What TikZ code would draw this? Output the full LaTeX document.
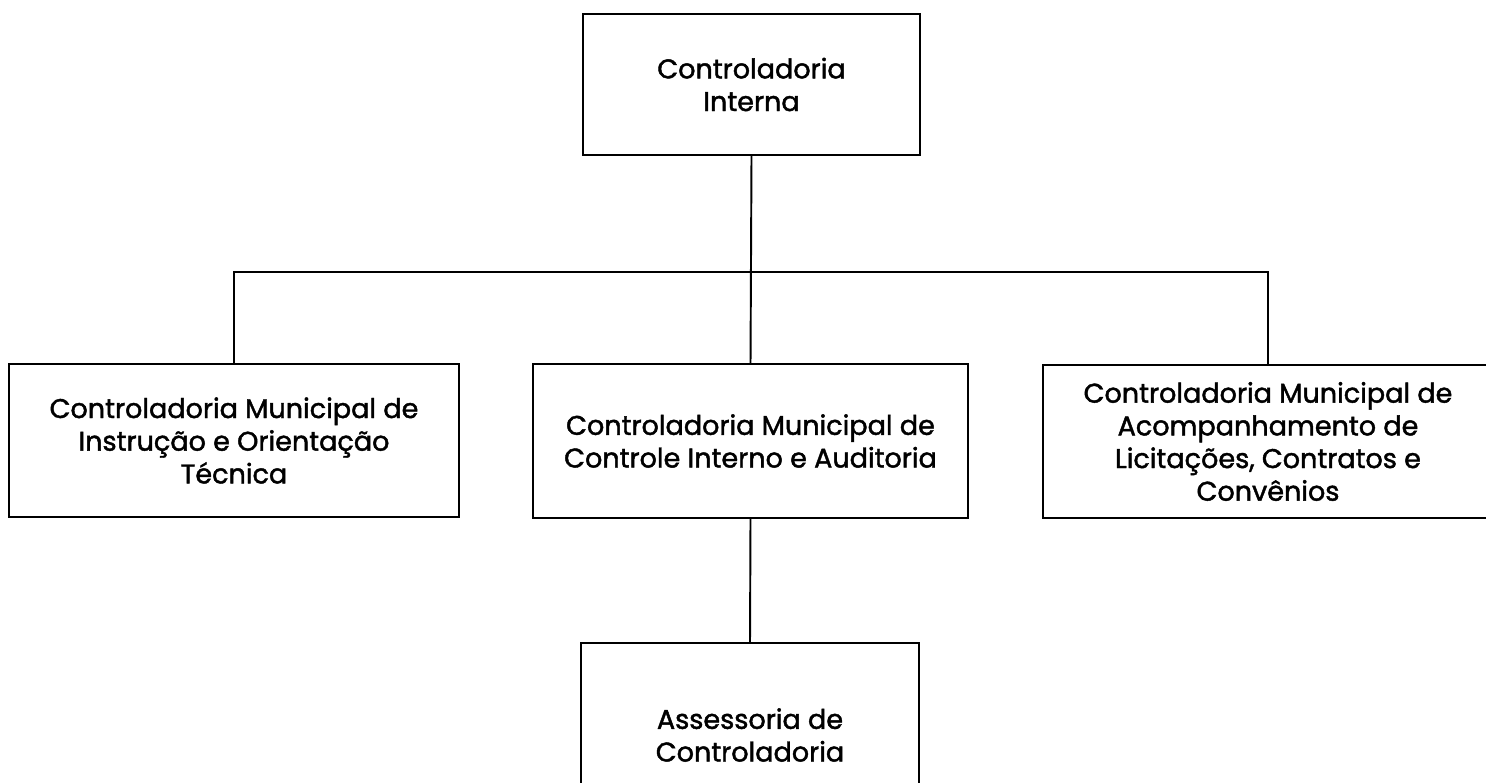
\documentclass[tikz,border=0pt]{standalone}
\usepackage{fontspec}
\newfontfamily\caixafont{Poppins}[FakeBold=1.6]
\usetikzlibrary{positioning}

\begin{document}
\begin{tikzpicture}[x=0.02cm,y=-0.02cm,
		caixa/.style={draw,line width=1.1pt,align=center,inner sep=0pt,
			font=\caixafont\fontsize{15.4}{18.6}\selectfont}]
		\clip (0,0) rectangle (1486,782);
		\fill[white] (0,0) rectangle (1486,782);
		\node[caixa,minimum width=6.74cm,minimum height=2.82cm] (ci) at (751.5,84.5) {Controladoria\\Interna};
		\node[caixa,minimum width=9cm,minimum height=3.06cm] (cmio) at (234,440.5) {Controladoria Municipal de\\Instrução e Orientação\\Técnica};
		\node[caixa,minimum width=8.7cm,minimum height=3.08cm] (cmcia) at (750.5,441) {Controladoria Municipal de\\Controle Interno e Auditoria};
		\node[caixa,minimum width=9cm,minimum height=3.06cm] (cmalc) at (1268,441.5) {Controladoria Municipal de\\Acompanhamento de\\Licitações, Contratos e\\Convênios};
		\node[caixa,minimum width=6.76cm,minimum height=3.68cm] (ac) at (750,735) {Assessoria de\\Controladoria};
		\coordinate (bus) at (751,272);
		\draw[line width=1.1pt] (ci.south) -- (cmcia.north);
		\draw[line width=1.1pt] (cmio.north) |- (bus) -| (cmalc.north);
		\draw[line width=1.1pt] (cmcia.south) -- (ac.north);
	\end{tikzpicture}
\end{document}
